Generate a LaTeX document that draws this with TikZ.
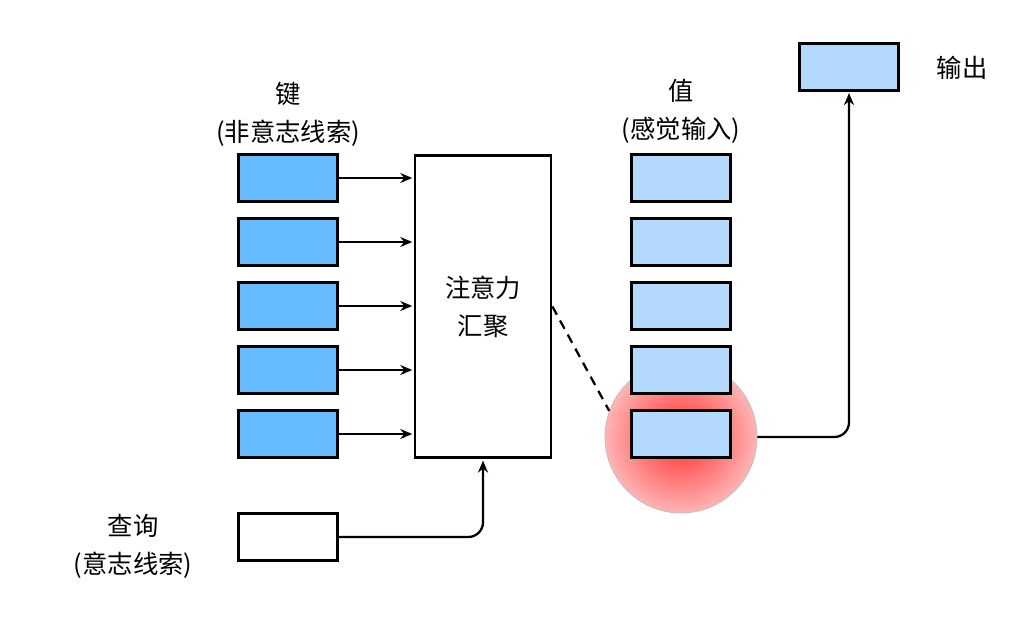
\documentclass[tikz,border=0pt]{standalone}
\usepackage{fontspec}
\setmainfont{Noto Sans CJK SC}
\usetikzlibrary{arrows.meta,positioning}

\definecolor{keyblue}{RGB}{102,187,255}
\definecolor{valblue}{RGB}{179,217,255}
\pgfdeclareradialshading{glowshade}{\pgfpoint{0bp}{0bp}}{color(0bp)=(red!80); color(13bp)=(red!55); color(27bp)=(red!25); color(40bp)=(red!12); color(50bp)=(red!5)}

\begin{document}
\begin{tikzpicture}[x=0.75pt,y=-0.75pt,shorten >=1pt,node distance=48pt,on grid,>={Stealth[length=9pt,width=7.5pt]},
  every node/.style={font=\fontsize{19}{28.5}\selectfont},
  box/.style={draw,line width=2.1pt,minimum width=74pt,minimum height=35pt,inner sep=0pt},
  keybox/.style={box,fill=keyblue},
  valbox/.style={box,fill=valblue},
  lbl/.style={align=center}]
\useasboundingbox (0,0) rectangle (1027,638);

\node[circle,minimum size=114pt,shading=glowshade,draw=black!25,line width=0.6pt] (glow) at (681,437) {};

\node[keybox] (k_1) at (288,178) {};
\node[keybox] (k_2) [below = of k_1] {};
\node[keybox] (k_3) [below = of k_2] {};
\node[keybox] (k_4) [below = of k_3] {};
\node[keybox] (k_5) [below = of k_4] {};

\node[valbox] (v_1) at (681,178) {};
\node[valbox] (v_2) [below = of v_1] {};
\node[valbox] (v_3) [below = of v_2] {};
\node[valbox] (v_4) [below = of v_3] {};
\node[valbox] (v_5) [below = of v_4] {};

\node[box,minimum width=102pt,minimum height=227pt,align=center] (attn) at (483,306.5) {注意力\\汇聚};
\node[box] (q) at (288,537) {};
\node[valbox] (out) at (849,67) {};

\node[lbl] (keylbl) at (288,114) {键\\(非意志线索)};
\node[lbl] (vallbl) at (681,111) {值\\(感觉输入)};
\node[lbl] (qlbl) at (133,546) {查询\\(意志线索)};
\node[lbl] (outlbl) at (962,68) {输出};

\path[->,line width=1.7pt] (k_1) edge (k_1 -| attn.west)
      (k_2) edge (k_2 -| attn.west)
      (k_3) edge (k_3 -| attn.west)
      (k_4) edge (k_4 -| attn.west)
      (k_5) edge (k_5 -| attn.west);
\draw[->,line width=1.7pt,rounded corners=11pt] (q.east) -| (attn.south);
\draw[->,line width=1.7pt,rounded corners=11pt] (glow.east) -| (out.south);
\draw[dashed,dash pattern=on 7pt off 5pt,line width=1.7pt,shorten >=0pt] (attn.east) -- (glow.160);
\end{tikzpicture}
\end{document}
